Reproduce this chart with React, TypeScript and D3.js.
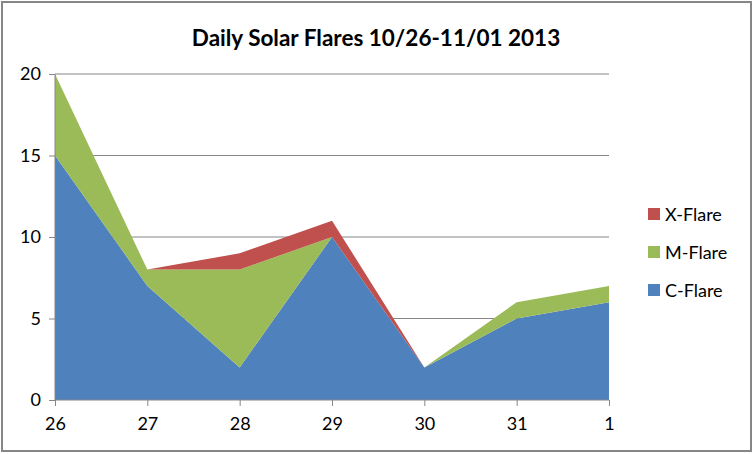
import { useEffect, useRef } from 'react'
import * as d3 from 'd3'

const categories = ['26', '27', '28', '29', '30', '31', '1']
const cFlare = [15, 7, 2, 10, 2, 5, 6]
const mFlare = [5, 1, 6, 0, 0, 1, 1]
const xFlare = [0, 0, 1, 1, 0, 0, 0]
const yTicks = [0, 5, 10, 15, 20]

const seriesNames = ['C-Flare', 'M-Flare', 'X-Flare']
const seriesColors = ['#4f81bd', '#9bbb59', '#c0504d']

const W = 754
const H = 454
const FONT = 'Lato, "Open Sans", sans-serif'

export default function App() {
  const svgRef = useRef<SVGSVGElement>(null)

  useEffect(() => {
    const svg = svgRef.current
    if (!svg) return
    const sel = d3.select(svg)
    sel.selectAll('*').remove()

    // 외곽 프레임
    sel.append('rect')
      .attr('x', 0).attr('y', 0).attr('width', W).attr('height', H).attr('fill', '#fff')
    sel.append('rect')
      .attr('x', 2).attr('y', 2).attr('width', W - 5).attr('height', H - 5)
      .attr('fill', 'none').attr('stroke', '#868686').attr('stroke-width', 2)

    const left = 55, right = 609, top = 74, bottom = 400

    const x = d3.scalePoint<string>().domain(categories).range([left, right])
    const y = d3.scaleLinear().domain([0, 20]).range([bottom, top])

    // 그리드
    sel.append('g')
      .selectAll('line')
      .data(yTicks.filter(t => t > 0))
      .join('line')
      .attr('x1', left).attr('x2', right)
      .attr('y1', d => y(d)).attr('y2', d => y(d))
      .attr('stroke', '#868686').attr('stroke-width', 1)

    // 스택 영역
    const rows = categories.map((c, i) => ({ cat: c, 'C-Flare': cFlare[i], 'M-Flare': mFlare[i], 'X-Flare': xFlare[i] }))
    const stack = d3.stack<any>().keys(seriesNames)(rows)
    const area = d3.area<any>()
      .x(d => x(d.data.cat) as number)
      .y0(d => y(d[0]))
      .y1(d => y(d[1]))

    stack.forEach((layer, i) => {
      sel.append('path').datum(layer)
        .attr('fill', seriesColors[i]).attr('d', area)
    })

    // y축
    sel.append('g')
      .attr('transform', `translate(${left},0)`)
      .call(d3.axisLeft(y).tickValues(yTicks).tickSize(6).tickPadding(8))
      .call(ag => {
        ag.select('.domain').attr('stroke', '#868686').attr('d', `M0,${top}V${bottom}`)
        ag.selectAll('.tick line').attr('stroke', '#868686')
        ag.selectAll('text').attr('fill', '#000').attr('font-size', 18).attr('font-family', FONT)
      })

    // x축
    sel.append('g')
      .attr('transform', `translate(0,${bottom})`)
      .call(d3.axisBottom(x).tickSize(6).tickPadding(11))
      .call(ag => {
        ag.select('.domain').attr('stroke', '#868686').attr('d', `M${left},0H${right}`)
        ag.selectAll('.tick line').attr('stroke', '#868686')
        ag.selectAll('text').attr('fill', '#000').attr('font-size', 18).attr('font-family', FONT)
      })

    // 제목
    sel.append('text')
      .attr('x', 376).attr('y', 46)
      .attr('text-anchor', 'middle')
      .attr('font-size', 22.5).attr('font-weight', 'bold').attr('font-family', FONT)
      .text('Daily Solar Flares 10/26-11/01 2013')

    // 범례 (역순)
    const legend = [...seriesNames].reverse()
    const lg = sel.append('g').attr('transform', 'translate(648,208)')
    legend.forEach((name, i) => {
      const idx = seriesNames.indexOf(name)
      lg.append('rect').attr('x', 0).attr('y', i * 38).attr('width', 12).attr('height', 12)
        .attr('fill', seriesColors[idx])
      lg.append('text').attr('x', 17).attr('y', i * 38 + 12.5)
        .attr('font-size', 18).attr('font-family', FONT).attr('fill', '#000')
        .text(name)
    })
  }, [])

  return (
    <svg
      ref={svgRef}
      width={W}
      height={H}
      style={{ position: 'fixed', left: 0, top: 0, display: 'block' }}
    />
  )
}
